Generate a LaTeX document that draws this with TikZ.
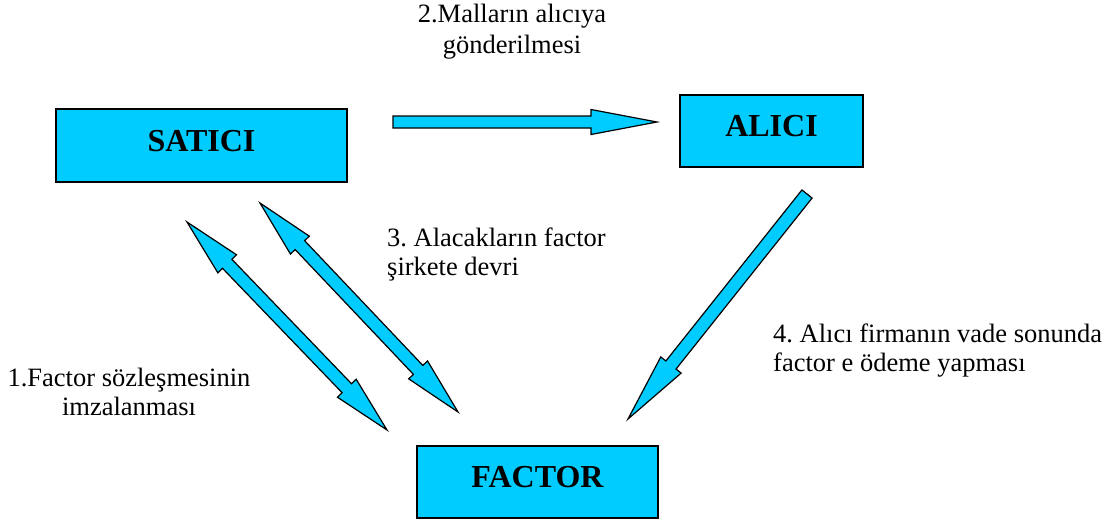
\documentclass[tikz,border=0pt]{standalone}
\usepackage{fontspec}
\setmainfont{Liberation Serif}
\usetikzlibrary{calc}
\definecolor{boxcyan}{HTML}{00CCFF}
\frenchspacing
\newcommand\singlearrow[5]{%
  \coordinate (#2h) at ($(#2)!#5!(#1)$);
  \draw[blockarrow] ($(#1)!#3!90:(#2)$) -- ($(#2h)!#3!90:(#2)$) -- ($(#2h)!#4!90:(#2)$) -- (#2)
     -- ($(#2h)!#4!-90:(#2)$) -- ($(#2h)!#3!-90:(#2)$) -- ($(#1)!#3!-90:(#2)$) -- cycle;}
\newcommand\doublearrow[5]{%
  \coordinate (#1h) at ($(#1)!#5!(#2)$);
  \coordinate (#2h) at ($(#2)!#5!(#1)$);
  \draw[blockarrow] (#1) -- ($(#1h)!#4!90:(#2)$) -- ($(#1h)!#3!90:(#2)$) -- ($(#2h)!#3!90:(#2)$)
     -- ($(#2h)!#4!90:(#2)$) -- (#2) -- ($(#2h)!#4!-90:(#2)$) -- ($(#2h)!#3!-90:(#2)$)
     -- ($(#1h)!#3!-90:(#2)$) -- ($(#1h)!#4!-90:(#2)$) -- cycle;}
\begin{document}
\frenchspacing
\begin{tikzpicture}[x=1pt,y=-1pt,
  box/.style={draw=black, fill=boxcyan, line width=1.5pt, inner sep=0pt,
    font=\fontsize{32}{38}\selectfont\bfseries, text depth=10pt},
  blockarrow/.style={draw=black, fill=boxcyan, line width=1.2pt, line join=miter},
  lbl/.style={inner sep=0pt, font=\fontsize{26.5}{30}\selectfont}]
\useasboundingbox (0,0) rectangle (1118,523);
% boxes
\node[box, minimum width=291pt, minimum height=73pt] (satici) at (201.5,145.5) {SATICI};
\node[box, minimum width=183pt, minimum height=72pt] (alici) at (771.5,131) {ALICI};
\node[box, minimum width=241pt, minimum height=72pt] (factor) at (537.5,482) {FACTOR};
% arrow end points
\coordinate (m1) at (393,122);
\coordinate (m2) at (657,122);
\coordinate (p1) at (807,194);
\coordinate (p2) at (628,419);
\coordinate (s1) at (187,222);
\coordinate (s2) at (387,430);
\coordinate (d1) at (260,203);
\coordinate (d2) at (458,412);
% arrows
\singlearrow{m1}{m2}{6pt}{12.5pt}{66pt}
\singlearrow{p1}{p2}{6.5pt}{13pt}{69pt}
\doublearrow{s1}{s2}{6.5pt}{13pt}{58pt}
\doublearrow{d1}{d2}{6.5pt}{13pt}{58pt}
% labels
\node[lbl, anchor=base] (l2a) at (512,22) {2.Malların alıcıya};
\node[lbl, anchor=base] (l2b) at (512,53) {gönderilmesi};
\node[lbl, anchor=base west] (l3a) at (387,246) {3. Alacakların factor};
\node[lbl, anchor=base west] (l3b) at (387,275) {şirkete devri};
\node[lbl, anchor=base] (l1a) at (129,386) {1.Factor sözleşmesinin};
\node[lbl, anchor=base] (l1b) at (129,415) {imzalanması};
\node[lbl, anchor=base west] (l4a) at (773,342) {4. Alıcı firmanın vade sonunda};
\node[lbl, anchor=base west] (l4b) at (773,371) {factor e ödeme yapması};
\end{tikzpicture}
\end{document}
